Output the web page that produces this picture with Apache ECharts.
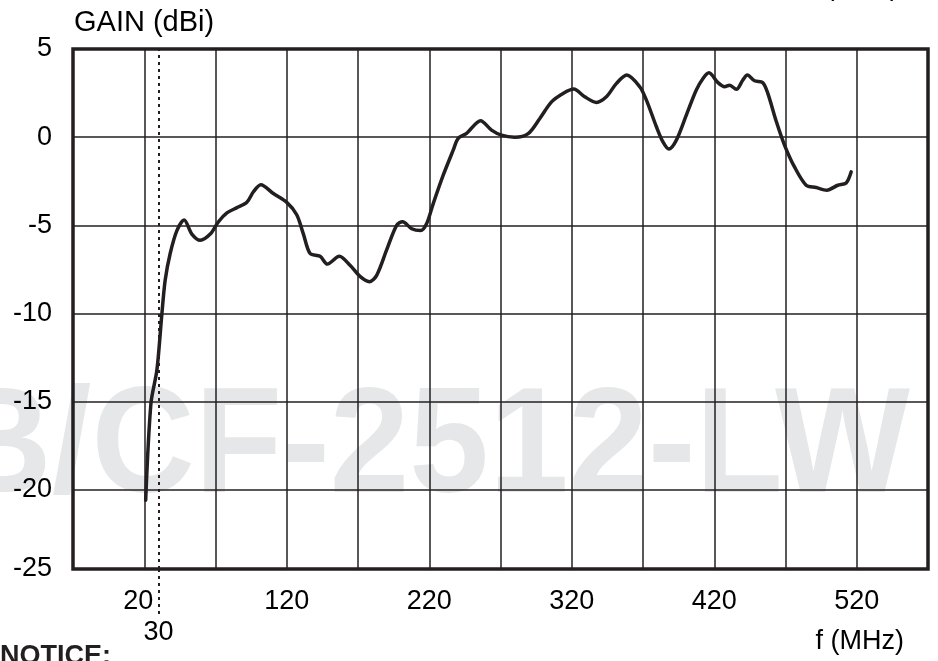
<!DOCTYPE html>
<html><head><meta charset="utf-8">
<script src="https://cdn.jsdelivr.net/npm/echarts@6/dist/echarts.min.js"></script>
<style>html,body{margin:0;padding:0;background:#fff;overflow:hidden}#c{width:938px;height:661px}</style>
</head><body><div id="c"></div>
<script>
// Frequency (MHz) and gain (dBi)
const freq = [21, 24.7, 28.9, 32.4, 34.7, 38.2, 42.9, 48, 53.4, 59.3, 66.3, 72.1, 78, 85, 92, 96.6, 101.8, 110.6, 120, 127, 131.7, 136.4, 143.4, 148.5, 156.9, 164.4, 171.4, 178, 183.1, 190.1, 197.1, 201.3, 207.7, 214, 218.2, 222.8, 229.8, 236.8, 240.3, 246.2, 256, 263.7, 270.7, 280, 289.4, 297.6, 305.8, 313.9, 321.4, 329.1, 337.3, 344.3, 351.4, 358.6, 367.7, 372.4, 379.4, 384, 388.2, 393.4, 400.4, 407.4, 412.1, 416.3, 422.6, 427.3, 430.8, 435.5, 440.1, 443.2, 448.3, 454.1, 457.6, 463.5, 469.3, 476.3, 484.5, 491.5, 499, 506.7, 512.6, 516.1];
const gain = [-20.6, -15.1, -13.2, -10.0, -8.1, -6.6, -5.3, -4.7, -5.5, -5.85, -5.5, -4.8, -4.3, -4.0, -3.7, -3.1, -2.7, -3.2, -3.7, -4.4, -5.5, -6.6, -6.76, -7.2, -6.76, -7.27, -7.9, -8.2, -7.84, -6.4, -5.0, -4.8, -5.2, -5.3, -4.9, -3.77, -2.16, -0.74, -0.07, 0.21, 0.93, 0.4, 0.11, 0.0, 0.2, 1.06, 2.0, 2.48, 2.73, 2.29, 1.97, 2.29, 3.05, 3.52, 2.86, 2.1, 0.59, -0.27, -0.68, -0.17, 1.25, 2.67, 3.33, 3.65, 3.09, 2.86, 2.95, 2.71, 3.24, 3.52, 3.2, 3.09, 2.48, 0.9, -0.45, -1.69, -2.73, -2.86, -3.01, -2.73, -2.6, -1.97];

const xGridLines = [20, 70, 120, 170, 220, 270, 320, 370, 420, 470, 520];
const xTickLabels = [20, 120, 220, 320, 420, 520];
const markerFreq = [30];
const yGridLines = [0, -5, -10, -15, -20];
const yTickLabels = [5, 0, -5, -10, -15, -20, -25];
const xMin = -30, xMax = 570, yMin = -24.5, yMax = 5;

const INK = '#231f20';
const FONT = '"Liberation Sans", Arial, Helvetica, sans-serif';

const chart = echarts.init(document.getElementById('c'), null, {renderer: 'canvas'});
const yLabelVals = yTickLabels.map(v => Math.max(v, yMin));

chart.setOption({
  animation: false,
  backgroundColor: '#ffffff',
  grid: {left: 73, right: 10, top: 49, bottom: 92, show: true, borderColor: INK, borderWidth: 3.5, backgroundColor: 'transparent', z: 1},
  xAxis: [{
    type: 'value', min: xMin, max: xMax,
    axisLine: {show: false}, axisTick: {show: false}, splitLine: {show: false},
    axisLabel: {
      customValues: xTickLabels, margin: 19, color: '#000', fontSize: 27, fontFamily: FONT,
      formatter: v => v === xTickLabels[0] ? '{a|' + v + '}' : String(v),
      rich: {a: {fontSize: 27, fontFamily: FONT, color: '#000', padding: [0, 12, 0, 0]}}
    }
  }, {
    type: 'value', min: xMin, max: xMax, position: 'bottom',
    axisLine: {show: false}, splitLine: {show: false},
    axisTick: {show: true, customValues: markerFreq, length: 48, lineStyle: {color: INK, width: 2, type: [3, 4]}},
    axisLabel: {customValues: markerFreq, margin: 50, color: '#000', fontSize: 27, fontFamily: FONT}
  }],
  yAxis: {
    type: 'value', min: yMin, max: yMax,
    axisLine: {show: false}, axisTick: {show: false}, splitLine: {show: false},
    axisLabel: {
      customValues: yLabelVals, margin: 21, color: '#000', fontSize: 27, fontFamily: FONT,
      formatter: v => v <= yMin ? String(yTickLabels[yTickLabels.length - 1]) : String(v)
    }
  },
  graphic: [
    {type: 'text', z: -10, x: 910, y: 451, scaleY: 1.05, silent: true,
     style: {text: 'B/CF-2512-LW', font: 'bold 143px ' + FONT, fill: '#e6e7e8', align: 'right', verticalAlign: 'middle', textAlign: 'right', textVerticalAlign: 'middle'}},
    {type: 'text', x: 74, y: 8, style: {text: 'GAIN (dBi)', font: '29px ' + FONT, fill: '#000', align: 'left', verticalAlign: 'top', textAlign: 'left', textVerticalAlign: 'top'}},
    {type: 'text', x: 904, y: 628, style: {text: 'f (MHz)', font: '27px ' + FONT, fill: '#000', align: 'right', verticalAlign: 'top', textAlign: 'right', textVerticalAlign: 'top'}},
    {type: 'text', x: 899, y: -26, style: {text: '(MHz)', font: '27px ' + FONT, fill: '#000', align: 'right', verticalAlign: 'top', textAlign: 'right', textVerticalAlign: 'top'}},
    {type: 'text', x: 0, y: 643, style: {text: 'NOTICE:', font: 'bold 27px ' + FONT, fill: '#231f20', align: 'left', verticalAlign: 'top', textAlign: 'left', textVerticalAlign: 'top'}}
  ],
  series: [{
    type: 'line', data: [], z: 1, silent: true,
    markLine: {
      silent: true, symbol: 'none', z: 1, animation: false,
      label: {show: false}, emphasis: {disabled: true},
      lineStyle: {color: INK, width: 1.5, type: 'solid'},
      data: [
        ...xGridLines.map(v => ({xAxis: v})),
        ...yGridLines.map(v => ({yAxis: v})),
        ...markerFreq.map(v => ({xAxis: v, lineStyle: {color: INK, width: 2, type: [3, 4]}}))
      ]
    }
  }, {
    type: 'line', z: 3, silent: true,
    data: freq.map((f, i) => [f, gain[i]]),
    smooth: 0.3, symbol: 'none',
    lineStyle: {color: INK, width: 3.5, cap: 'round', join: 'round'}
  }]
});
</script></body></html>
